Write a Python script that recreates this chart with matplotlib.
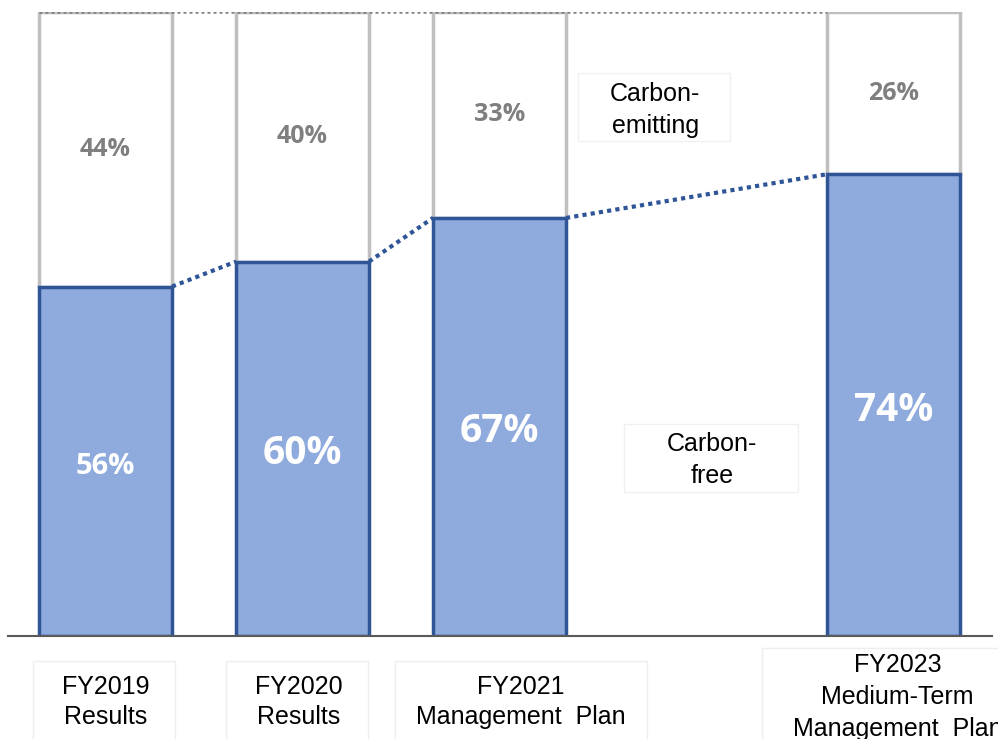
import matplotlib.pyplot as plt
from matplotlib.patches import Rectangle

# data
categories = ['FY2019\nResults', 'FY2020\nResults', 'FY2021\nManagement  Plan',
              'FY2023\nMedium-Term\nManagement  Plan']
positions = [0, 1, 2, 4]
carbon_free = [56, 60, 67, 74]
carbon_emitting = [44, 40, 33, 26]

blue_fill = '#8faadc'
blue_edge = '#2f5597'
gray_edge = '#bfbfbf'
gray_text = '#7f7f7f'

fig = plt.figure(figsize=(9.98, 7.39), dpi=100)
ax = fig.add_axes([8 / 998, (739 - 636) / 739, 984 / 998, 624 / 739])
ax.set_xlim(-0.495, 4.5)
ax.set_ylim(0, 100)

width = 0.675

# stacked bars
ax.bar(positions, carbon_free, width=width, color=blue_fill,
       edgecolor=blue_edge, linewidth=2.5, zorder=2)
ax.bar(positions, carbon_emitting, width=width, bottom=carbon_free,
       color='white', edgecolor=gray_edge, linewidth=2.5, zorder=1)

# top dotted reference line
ax.plot([positions[0] - width / 2, positions[-1] - width / 2], [100, 100],
        color='#7f7f7f', linestyle=(0, (1.2, 1.2)), linewidth=1.8, zorder=3)

# connectors between carbon-free tops
for i in range(len(positions) - 1):
    ax.plot([positions[i] + width / 2, positions[i + 1] - width / 2],
            [carbon_free[i], carbon_free[i + 1]],
            color=blue_edge, linestyle=(0, (1, 1)), linewidth=3, zorder=3)

# value labels
free_sizes = [21, 28, 28, 28]
for x, f, e, fs in zip(positions, carbon_free, carbon_emitting, free_sizes):
    ax.text(x, f / 2 - 0.8, f'{f}%', ha='center', va='center', color='white',
            fontsize=fs, fontweight='bold', family='Open Sans', zorder=4)
    ax.text(x, f + e / 2, f'{e}%', ha='center', va='center', color=gray_text,
            fontsize=18, fontweight='bold', family='Open Sans', zorder=4)

# series annotations
ax.text(2.79, 100 - (110 - 12) / 6.24, 'Carbon-\nemitting', ha='center', va='center',
        fontsize=18, family='Liberation Sans', linespacing=1.45)
ax.add_patch(Rectangle((2.4, 100 - (141 - 12) / 6.24), 0.77, 68 / 6.24,
                       fill=False, edgecolor='#f0f0f0', linewidth=1))
ax.text(3.08, 100 - (460 - 12) / 6.24, 'Carbon-\nfree', ha='center', va='center',
        fontsize=18, family='Liberation Sans', linespacing=1.4)
ax.add_patch(Rectangle((2.63, 100 - (492 - 12) / 6.24), 0.885, 68 / 6.24,
                       fill=False, edgecolor='#f0f0f0', linewidth=1))

# category labels below the axis
label_shift = [0, -0.02, 0.11, 0.02]
for x, cat, dx in zip(positions, categories, label_shift):
    three = cat.count('\n') == 2
    ax.text(x + dx, -(653 - 636) / 624 if three else -(702 - 636) / 624, cat,
            ha='center', va='top' if three else 'center',
            transform=ax.get_xaxis_transform(), fontsize=18,
            family='Liberation Sans', linespacing=1.42 if three else 1.3,
            clip_on=False)

for x0, y0, w, h in [(33, 661, 142, 90), (226, 661, 142, 90),
                     (395, 661, 252, 90), (762, 648, 250, 100)]:
    fig.add_artist(Rectangle((x0 / 998, (739 - y0 - h) / 739), w / 998, h / 739,
                             transform=fig.transFigure, fill=False,
                             edgecolor='#eeeeee', linewidth=1))

for side in ['top', 'right', 'left']:
    ax.spines[side].set_visible(False)
ax.spines['bottom'].set_color('#595959')
ax.spines['bottom'].set_linewidth(1.5)
ax.set_xticks([])
ax.set_yticks([])

plt.savefig('out.png', dpi=100)
